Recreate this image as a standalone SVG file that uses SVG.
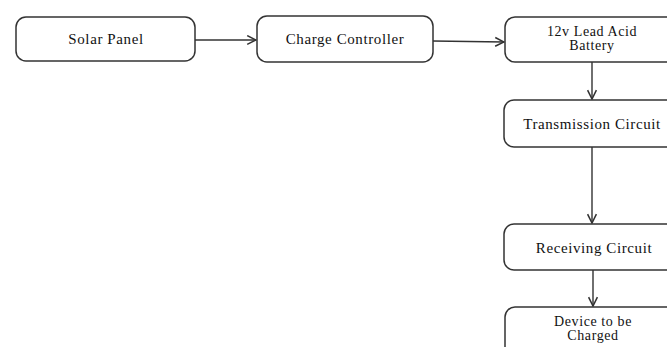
<svg xmlns="http://www.w3.org/2000/svg" width="667" height="347" viewBox="0 0 667 347">
<style>
.box{fill:#fff;stroke:#333;stroke-width:1.5}
.t{font-family:"Liberation Serif","Times New Roman",serif;font-size:15px;fill:#111;text-anchor:middle;letter-spacing:0.6px}
.t2{font-size:14px}
.c{fill:none;stroke:#333;stroke-width:1.4}
</style>
<defs>
<marker id="a" viewBox="0 0 10 10" refX="9" refY="5" markerWidth="11" markerHeight="11" markerUnits="userSpaceOnUse" orient="auto">
<path d="M1,1 L9,5 L1,9" fill="none" stroke="#333" stroke-width="1.4"/>
</marker>
</defs>
<g id="connectors">
<line class="c" x1="195" y1="40" x2="256" y2="40" marker-end="url(#a)"/>
<line class="c" x1="433" y1="41" x2="504" y2="42" marker-end="url(#a)"/>
<line class="c" x1="592" y1="62" x2="592" y2="99" marker-end="url(#a)"/>
<line class="c" x1="592" y1="147" x2="592" y2="223" marker-end="url(#a)"/>
<line class="c" x1="593" y1="270" x2="593" y2="306" marker-end="url(#a)"/>
</g>
<g id="solar"><rect class="box" x="16" y="17" width="179" height="44" rx="10"/><text class="t" x="106" y="44">Solar Panel</text></g>
<g id="controller"><rect class="box" x="257" y="16" width="176" height="46" rx="10"/><text class="t" x="345" y="44">Charge Controller</text></g>
<g id="battery"><rect class="box" x="505" y="17" width="180" height="45" rx="10"/><text class="t t2" x="592" y="36">12v Lead Acid</text><text class="t t2" x="592" y="50">Battery</text></g>
<g id="transmission"><rect class="box" x="504" y="100" width="180" height="47" rx="10"/><text class="t" x="592" y="129">Transmission Circuit</text></g>
<g id="receiving"><rect class="box" x="504" y="224" width="180" height="46" rx="10"/><text class="t" x="594" y="253">Receiving Circuit</text></g>
<g id="device"><rect class="box" x="505" y="307" width="180" height="60" rx="10"/><text class="t t2" x="593" y="326">Device to be</text><text class="t t2" x="593" y="340">Charged</text></g>
</svg>
